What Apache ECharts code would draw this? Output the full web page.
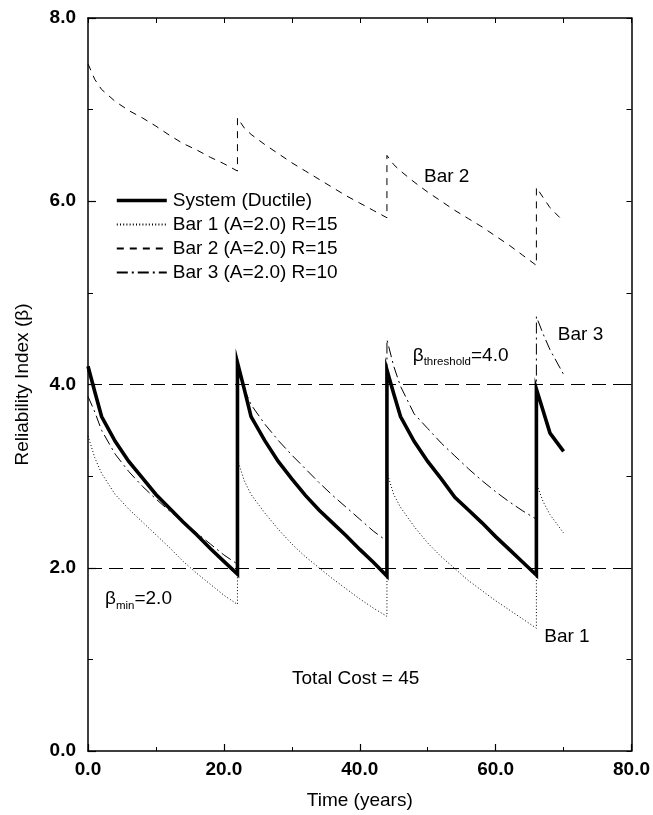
<!DOCTYPE html>
<html>
<head>
<meta charset="utf-8">
<script src="https://cdn.jsdelivr.net/npm/echarts@6/dist/echarts.min.js"></script>
<style>
  html, body { margin: 0; padding: 0; background: #fff; }
  #chart { width: 653px; height: 815px; }
</style>
</head>
<body>
<div id="chart"></div>
<script>
// Time axis (years); repairs at 22, 44 and 66 appear twice (before / after)
const times = [
  0, 1, 2, 4, 6, 8, 10, 12, 14, 16, 18, 20, 22,
  22, 23, 24, 26, 28, 30, 32, 34, 36, 38, 40, 42, 44,
  44, 45, 46, 48, 50, 52, 54, 56, 58, 60, 62, 64, 66,
  66, 67, 68, 70
];

// Reliability index of the ductile system
const systemBeta = [
  4.20, 3.92, 3.65, 3.38, 3.16, 2.98, 2.80, 2.65, 2.50, 2.36, 2.21, 2.07, 1.93,
  4.24, 3.95, 3.65, 3.39, 3.16, 2.97, 2.79, 2.63, 2.49, 2.35, 2.20, 2.06, 1.91,
  4.16, 3.90, 3.65, 3.38, 3.16, 2.97, 2.77, 2.63, 2.49, 2.34, 2.20, 2.06, 1.92,
  3.95, 3.71, 3.47, 3.27
];

// Bar 1 (A=2.0) R=15
const bar1Beta = [
  3.44, 3.20, 3.03, 2.80, 2.64, 2.50, 2.36, 2.22, 2.07, 1.94, 1.82, 1.70, 1.60,
  3.18, 2.95, 2.80, 2.60, 2.42, 2.26, 2.12, 2.00, 1.88, 1.77, 1.66, 1.56, 1.47,
  3.04, 2.80, 2.66, 2.45, 2.27, 2.12, 1.99, 1.86, 1.75, 1.64, 1.54, 1.44, 1.34,
  2.92, 2.72, 2.58, 2.38
];

// Bar 2 (A=2.0) R=15
const bar2Beta = [
  7.50, 7.33, 7.22, 7.09, 6.99, 6.91, 6.82, 6.72, 6.63, 6.56, 6.48, 6.41, 6.33,
  6.91, 6.80, 6.73, 6.62, 6.52, 6.42, 6.33, 6.24, 6.15, 6.06, 5.98, 5.90, 5.82,
  6.50, 6.40, 6.33, 6.21, 6.10, 6.00, 5.90, 5.81, 5.72, 5.62, 5.52, 5.41, 5.30,
  6.15, 6.04, 5.93, 5.78
];

// Bar 3 (A=2.0) R=10
const bar3Beta = [
  3.87, 3.70, 3.50, 3.24, 3.05, 2.89, 2.75, 2.62, 2.50, 2.38, 2.26, 2.14, 2.04,
  4.15, 3.95, 3.78, 3.57, 3.39, 3.23, 3.08, 2.93, 2.79, 2.66, 2.53, 2.40, 2.29,
  4.49, 4.20, 3.98, 3.68, 3.52, 3.36, 3.22, 3.08, 2.95, 2.83, 2.72, 2.62, 2.53,
  4.74, 4.55, 4.38, 4.11
];

const seriesNames = [
  'System (Ductile)',
  'Bar 1 (A=2.0) R=15',
  'Bar 2 (A=2.0) R=15',
  'Bar 3 (A=2.0) R=10'
];

const xTickLabels = ['0.0', '20.0', '40.0', '60.0', '80.0'];
const yTickLabels = ['0.0', '2.0', '4.0', '6.0', '8.0'];

const betaThreshold = 4.0;
const betaMin = 2.0;

const FONT = "'Liberation Sans', Arial, Helvetica, sans-serif";
const INK = '#000';
const SYSTEM_WIDTH = 3.6;

function pairs(values) {
  return times.map((t, i) => [t, values[i]]);
}

// Text notes placed in data coordinates
const notes = [
  { at: [52.8, 6.25], text: '{m|Bar 2}', pos: 'inside' },
  { at: [72.5, 4.53], text: '{m|Bar 3}', pos: 'inside' },
  { at: [70.5, 1.23], text: '{m|Bar 1}', pos: 'inside' },
  { at: [39.4, 0.77], text: '{m|Total Cost = 45}', pos: 'inside' },
  { at: [47.8, 4.30], text: '{m|β}{s|threshold}{m|=4.0}', pos: 'right' },
  { at: [2.5, 1.64], text: '{m|β}{s|min}{m|=2.0}', pos: 'right' }
];

const chart = echarts.init(document.getElementById('chart'), null, { renderer: 'canvas' });

const thinLine = (type) => ({ color: INK, width: 1, type: type });

const option = {
  animation: false,
  backgroundColor: '#fff',
  textStyle: { fontFamily: FONT, color: INK },
  grid: { left: 88, right: 21, top: 18, bottom: 63, containLabel: false },
  legend: {
    left: 110,
    top: 186,
    orient: 'vertical',
    data: [
      { name: seriesNames[0], lineStyle: { width: SYSTEM_WIDTH } },
      { name: seriesNames[1] },
      { name: seriesNames[2] },
      { name: seriesNames[3] }
    ],
    itemWidth: 50,
    itemHeight: 14,
    itemGap: 5,
    selectedMode: false,
    itemStyle: { opacity: 0 },
    textStyle: { fontFamily: FONT, fontSize: 19, color: INK, padding: [0, 0, 0, 1] }
  },
  xAxis: [
    {
      type: 'value', min: 0, max: 80, interval: 20, position: 'bottom',
      axisLine: { show: true, onZero: false, lineStyle: { color: INK, width: 1.5 } },
      axisTick: { show: true, inside: true, length: 7, lineStyle: { color: INK, width: 1.2 } },
      minorTick: { show: true, splitNumber: 2, length: 4, lineStyle: { color: INK, width: 1 } },
      splitLine: { show: false },
      axisLabel: {
        margin: 9, color: INK, fontFamily: FONT, fontSize: 19, fontWeight: 'bold',
        formatter: (v) => xTickLabels[Math.round(v / 20)]
      },
      name: 'Time (years)', nameLocation: 'middle', nameGap: 40,
      nameTextStyle: { fontFamily: FONT, fontSize: 19, color: INK }
    },
    {
      type: 'value', min: 0, max: 80, interval: 10, position: 'top',
      axisLine: { show: true, onZero: false, lineStyle: { color: INK, width: 1.5 } },
      axisTick: { show: true, inside: true, length: 5, lineStyle: { color: INK, width: 1 } },
      axisLabel: { show: false },
      splitLine: { show: false }
    }
  ],
  yAxis: [
    {
      type: 'value', min: 0, max: 8, interval: 2, position: 'left',
      axisLine: { show: true, onZero: false, lineStyle: { color: INK, width: 1.5 } },
      axisTick: { show: true, inside: true, length: 8, lineStyle: { color: INK, width: 1.2 } },
      minorTick: { show: true, splitNumber: 2, length: 5, lineStyle: { color: INK, width: 1 } },
      splitLine: { show: false },
      axisLabel: {
        margin: 12, color: INK, fontFamily: FONT, fontSize: 19, fontWeight: 'bold',
        formatter: (v) => yTickLabels[Math.round(v / 2)]
      },
      name: 'Reliability Index (β)', nameLocation: 'middle', nameGap: 56,
      nameTextStyle: { fontFamily: FONT, fontSize: 19, color: INK }
    },
    {
      type: 'value', min: 0, max: 8, interval: 1, position: 'right',
      axisLine: { show: true, onZero: false, lineStyle: { color: INK, width: 1.5 } },
      axisTick: { show: true, inside: true, length: 5, lineStyle: { color: INK, width: 1 } },
      axisLabel: { show: false },
      splitLine: { show: false }
    }
  ],
  series: [
    {
      name: 'limits', type: 'line', data: [], silent: true, z: 1,
      markLine: {
        silent: true, symbol: 'none', label: { show: false },
        lineStyle: { color: INK, width: 1, type: [14, 7] },
        data: [{ yAxis: betaThreshold }, { yAxis: betaMin }]
      }
    },
    {
      name: seriesNames[1], type: 'line', data: pairs(bar1Beta), showSymbol: false, symbol: 'none',
      lineStyle: thinLine([1, 2.2]), itemStyle: { color: INK }, z: 3
    },
    {
      name: seriesNames[2], type: 'line', data: pairs(bar2Beta), showSymbol: false, symbol: 'none',
      lineStyle: thinLine([7, 6]), itemStyle: { color: INK }, z: 3
    },
    {
      name: seriesNames[3], type: 'line', data: pairs(bar3Beta), showSymbol: false, symbol: 'none',
      lineStyle: thinLine([11, 4, 2, 4]), itemStyle: { color: INK }, z: 3
    },
    {
      name: seriesNames[0], type: 'line', data: pairs(systemBeta), showSymbol: false, symbol: 'none',
      lineStyle: { color: INK, width: SYSTEM_WIDTH, join: 'miter' }, itemStyle: { color: INK }, z: 4
    },
    {
      name: 'notes', type: 'scatter', symbolSize: 0, silent: true, z: 5,
      itemStyle: { opacity: 1, color: INK },
      data: notes.map((n) => ({
        value: n.at,
        label: {
          show: true, position: n.pos, distance: 0, color: INK, opacity: 1,
          formatter: n.text,
          rich: {
            m: { fontFamily: FONT, fontSize: 19, color: INK, lineHeight: 22, verticalAlign: 'top' },
            s: { fontFamily: FONT, fontSize: 11.5, color: INK, lineHeight: 22, verticalAlign: 'bottom' }
          }
        }
      }))
    }
  ]
};

chart.setOption(option);
</script>
</body>
</html>
